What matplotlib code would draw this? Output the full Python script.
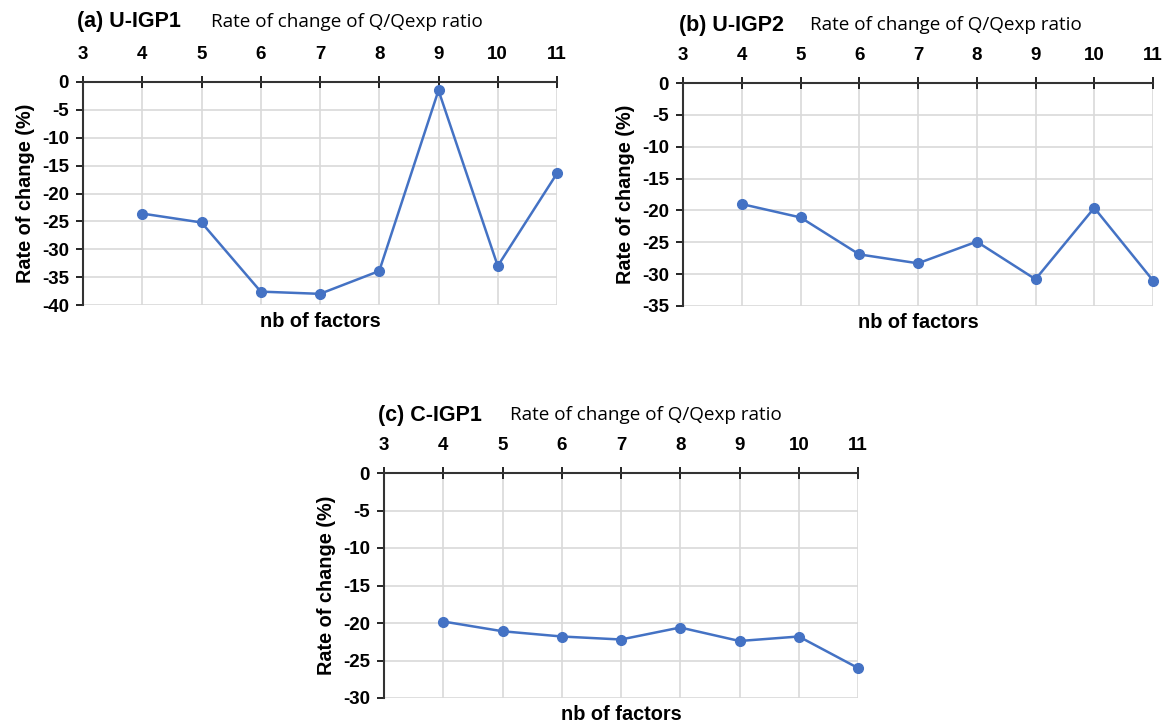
import matplotlib
matplotlib.use("Agg")
import matplotlib.pyplot as plt
import numpy as np

# data
factors = [4, 5, 6, 7, 8, 9, 10, 11]
u_igp1 = [-23.6, -25.2, -37.6, -38.0, -33.9, -1.5, -33.0, -16.4]
u_igp2 = [-19.0, -21.1, -26.9, -28.3, -24.9, -30.8, -19.6, -31.0]
c_igp1 = [-19.8, -21.1, -21.8, -22.2, -20.6, -22.4, -21.8, -26.0]

xticks = list(range(3, 12))

plt.rcParams['font.family'] = ['Liberation Sans', 'DejaVu Sans']
plt.rcParams['axes.unicode_minus'] = False

BLUE = "#4472C4"
GRID = "#d9d9d9"

W, H = 1165, 724
fig = plt.figure(figsize=(W / 100, H / 100), dpi=100)


def px_axes(l, t, r, b):
    return fig.add_axes([l / W, 1 - b / H, (r - l) / W, (b - t) / H])


def panel(ax, y, ymin, tag, tag_xy, sub_xy):
    ax.plot(factors, y, color=BLUE, lw=1.8, marker="o", ms=7, zorder=3, clip_on=False)
    ax.set_xlim(3, 11)
    ax.set_ylim(ymin, 0)
    ax.set_xticks(xticks)
    ax.set_yticks(np.arange(ymin, 1, 5))
    ax.xaxis.tick_top()
    ax.tick_params(axis="x", direction="inout", length=9, width=1.2, pad=9,
                   labelsize=13.5)
    ax.tick_params(axis="y", direction="out", length=5, width=1.2, pad=5,
                   labelsize=13.5)
    for lab in ax.get_xticklabels() + ax.get_yticklabels():
        lab.set_fontweight("bold")
    ax.grid(True, color=GRID, lw=1.2, zorder=0)
    ax.set_axisbelow(True)
    ax.spines["right"].set_visible(False)
    ax.spines["bottom"].set_visible(False)
    ax.spines["top"].set_linewidth(1.5)
    ax.spines["left"].set_linewidth(1.5)
    ax.spines["top"].set_color("#333333")
    ax.spines["left"].set_color("#333333")
    ax.set_ylabel("Rate of change (%)", fontsize=14.3, fontweight="bold", labelpad=5)
    ax.text(0.5, -0.075, "nb of factors", transform=ax.transAxes, ha="center",
            va="center", fontsize=14.3, fontweight="bold")
    fig.text(tag_xy[0] / W, 1 - tag_xy[1] / H, tag, fontsize=15.5,
             fontweight="bold", va="center", ha="left")
    fig.text(sub_xy[0] / W, 1 - sub_xy[1] / H, "Rate of change of Q/Qexp ratio",
             fontsize=13.6, family=["Open Sans", "DejaVu Sans"], va="center",
             ha="left")


ax_a = px_axes(83, 82, 557, 305)
panel(ax_a, u_igp1, -40, "(a) U-IGP1", (77, 22), (211, 22))

ax_b = px_axes(683, 83, 1153, 306)
panel(ax_b, u_igp2, -35, "(b) U-IGP2", (679, 25), (810, 25))

ax_c = px_axes(384, 473, 858, 698)
panel(ax_c, c_igp1, -30, "(c) C-IGP1", (378, 415), (510, 415))

fig.savefig("out.png", dpi=100)
